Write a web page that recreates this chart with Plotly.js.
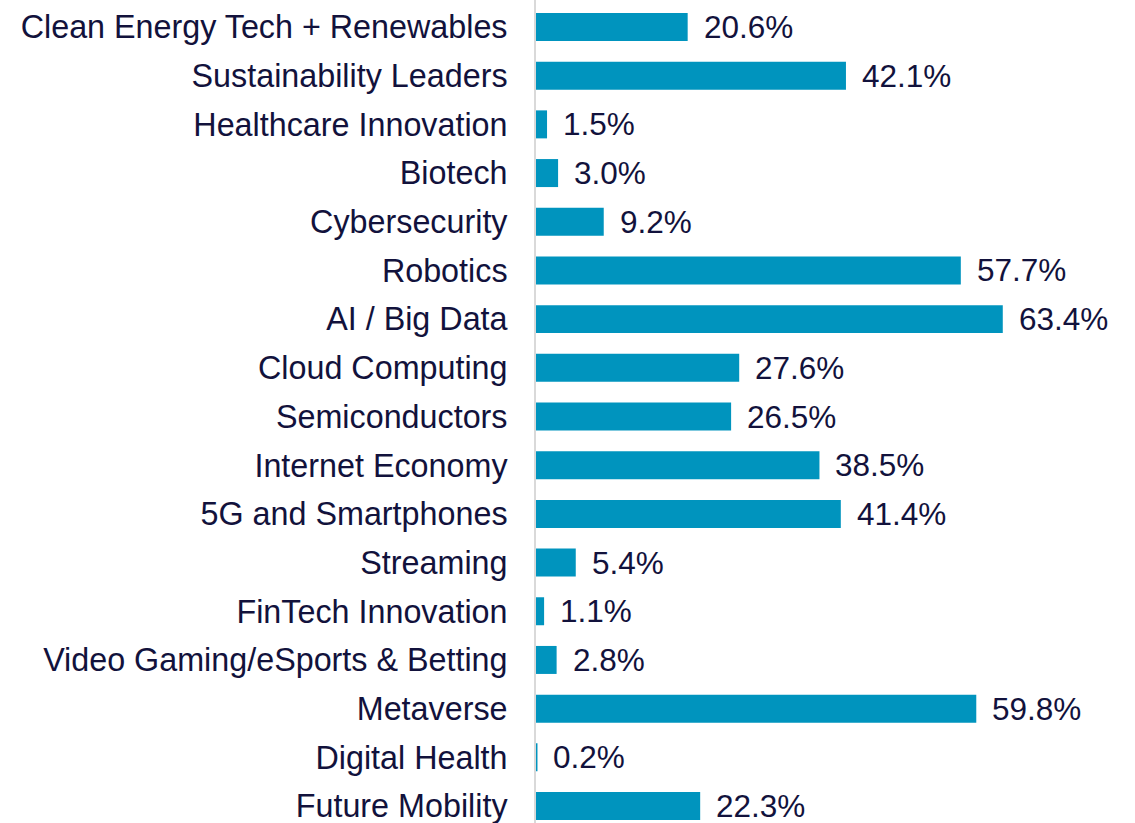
<!DOCTYPE html>
<html>
<head>
<meta charset="utf-8">
<script src="https://cdn.plot.ly/plotly-3.0.1.min.js"></script>
<style>html,body{margin:0;padding:0;background:#fff;}#chart{width:1135px;height:823px;}</style>
</head>
<body>
<div id="chart"></div>
<script>
const categories = [
  "Clean Energy Tech + Renewables",
  "Sustainability Leaders",
  "Healthcare Innovation",
  "Biotech",
  "Cybersecurity",
  "Robotics",
  "AI / Big Data",
  "Cloud Computing",
  "Semiconductors",
  "Internet Economy",
  "5G and Smartphones",
  "Streaming",
  "FinTech Innovation",
  "Video Gaming/eSports & Betting",
  "Metaverse",
  "Digital Health",
  "Future Mobility"
];
const values = [20.6, 42.1, 1.5, 3.0, 9.2, 57.7, 63.4, 27.6, 26.5, 38.5, 41.4, 5.4, 1.1, 2.8, 59.8, 0.2, 22.3];

const textColor = "#12123c";
const fontFamily = "'Liberation Sans', Arial, sans-serif";

const trace = {
  type: "bar",
  orientation: "h",
  x: values,
  y: categories,
  marker: {color: "#0094be"},
  hoverinfo: "none"
};

const annotations = values.map((v, i) => ({
  x: v,
  y: categories[i],
  xref: "x",
  yref: "y",
  text: v.toFixed(1) + "%",
  showarrow: false,
  xanchor: "left",
  yanchor: "middle",
  xshift: 14,
  font: {family: fontFamily, size: 31.5, color: textColor}
}));

const layout = {
  width: 1135,
  height: 823,
  margin: {l: 536, r: 10, t: 0, b: 0},
  paper_bgcolor: "#ffffff",
  plot_bgcolor: "#ffffff",
  showlegend: false,
  bargap: 0.425,
  xaxis: {
    range: [0, 80],
    showgrid: false,
    zeroline: false,
    showline: false,
    showticklabels: false,
    fixedrange: true
  },
  yaxis: {
    type: "category",
    categoryorder: "array",
    categoryarray: categories,
    range: [16.349, -0.5545],
    showgrid: false,
    zeroline: false,
    showline: true,
    linecolor: "#d9d9d9",
    linewidth: 2,
    ticks: "",
    ticklabelstandoff: 20,
    tickfont: {family: fontFamily, size: 32.3, color: textColor},
    fixedrange: true
  },
  annotations: annotations,
  font: {family: fontFamily, color: textColor}
};

Plotly.newPlot("chart", [trace], layout, {displayModeBar: false, staticPlot: true});
</script>
</body>
</html>
